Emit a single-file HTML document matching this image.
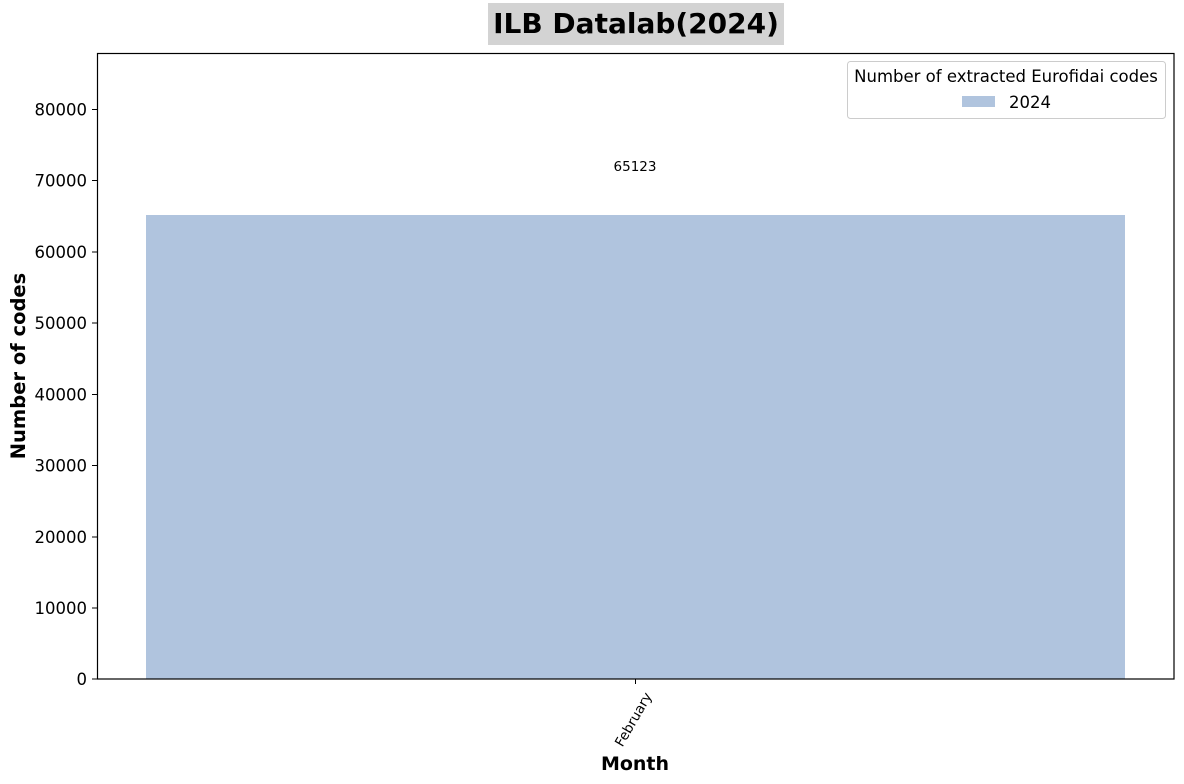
<!DOCTYPE html>
<html><head><meta charset="utf-8"><style>
html,body{margin:0;padding:0;background:#fff;}
svg{display:block;font-family:"DejaVu Sans","Liberation Sans",sans-serif;}
</style></head><body>
<svg width="1184" height="784" viewBox="0 0 1184 784" xmlns="http://www.w3.org/2000/svg">
<rect x="0" y="0" width="1184" height="784" fill="#fff"/>
<rect x="146" y="215" width="979" height="464" fill="#b0c4de"/>
<rect x="97.5" y="53.5" width="1076.5" height="625.5" fill="none" stroke="#000" stroke-width="1.2"/>
<g stroke="#000" stroke-width="1">
<line x1="92" y1="679" x2="97.5" y2="679"/>
<line x1="92" y1="608" x2="97.5" y2="608"/>
<line x1="92" y1="537" x2="97.5" y2="537"/>
<line x1="92" y1="465.5" x2="97.5" y2="465.5"/>
<line x1="92" y1="394.5" x2="97.5" y2="394.5"/>
<line x1="92" y1="323" x2="97.5" y2="323"/>
<line x1="92" y1="252" x2="97.5" y2="252"/>
<line x1="92" y1="180.5" x2="97.5" y2="180.5"/>
<line x1="92" y1="109.5" x2="97.5" y2="109.5"/>
<line x1="635.5" y1="679" x2="635.5" y2="684"/>
</g>
<g font-size="16.5" text-anchor="end" fill="#000">
<text x="87" y="685">0</text>
<text x="87" y="614">10000</text>
<text x="87" y="543">20000</text>
<text x="87" y="471.5">30000</text>
<text x="87" y="400.5">40000</text>
<text x="87" y="329">50000</text>
<text x="87" y="258">60000</text>
<text x="87" y="186.5">70000</text>
<text x="87" y="115.5">80000</text>
</g>
<text x="635" y="171" font-size="13.5" text-anchor="middle">65123</text>
<text transform="translate(644,691) rotate(-60)" font-size="13.5" text-anchor="end" dominant-baseline="hanging">February</text>
<text x="635" y="770" font-size="19" font-weight="bold" text-anchor="middle">Month</text>
<text transform="translate(25,366) rotate(-90)" font-size="19.5" font-weight="bold" text-anchor="middle">Number of codes</text>
<rect x="488" y="3" width="296" height="42" fill="#d3d3d3"/>
<text x="636" y="33" font-size="28" font-weight="bold" text-anchor="middle">ILB Datalab(2024)</text>
<rect x="847.5" y="61.5" width="318" height="57" rx="3" fill="#fff" stroke="#ccc" stroke-width="1"/>
<text x="1006" y="82" font-size="16.5" text-anchor="middle">Number of extracted Eurofidai codes</text>
<rect x="962" y="96" width="33" height="11" fill="#b0c4de"/>
<text x="1009" y="108" font-size="16.5">2024</text>
</svg>
</body></html>
